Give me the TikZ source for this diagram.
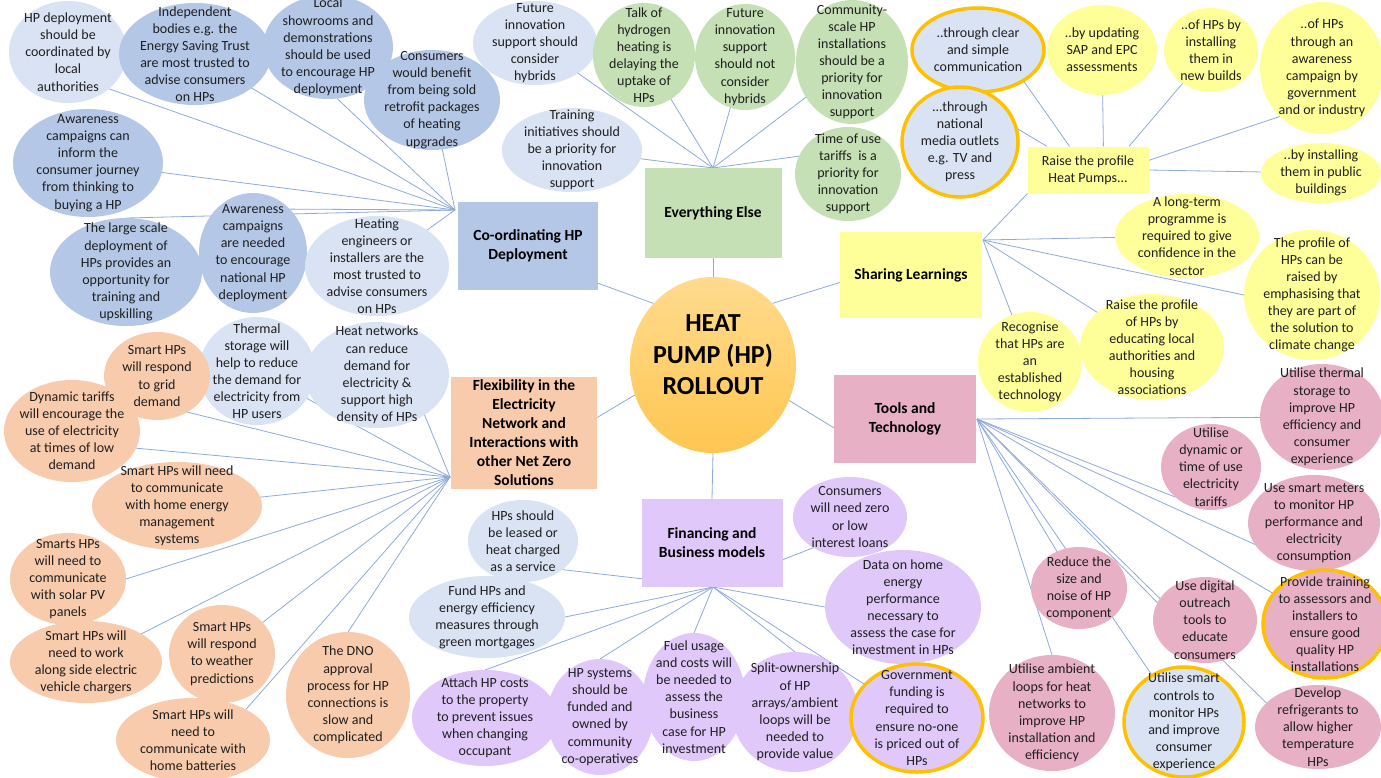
\documentclass[tikz,border=0pt]{standalone}
\usepackage{fontspec}
\setmainfont{Carlito}
\usetikzlibrary{shapes.geometric}
\pgfdeclarelayer{bg}
\pgfsetlayers{bg,main}
\definecolor{lb}{HTML}{DAE3F3}
\definecolor{mb}{HTML}{B4C7E7}
\definecolor{gr}{HTML}{C5E0B4}
\definecolor{ye}{HTML}{FFFF99}
\definecolor{orr}{HTML}{F8CBAD}
\definecolor{pu}{HTML}{E0C8FA}
\definecolor{pk}{HTML}{E8B0C5}
\definecolor{hlorange}{HTML}{FFC000}
\definecolor{linec}{HTML}{8EAADB}
\definecolor{heattop}{HTML}{FFDB8F}
\definecolor{heatbot}{HTML}{FFC650}
\tikzset{
 bubble/.style={ellipse, draw=none, inner sep=0pt, outer sep=0pt},
 btext/.style={align=center, inner sep=0pt, text=black!88, font=\fontsize{14}{17.1}\selectfont},
 hl/.style={draw=hlorange, line width=3.5pt},
 catbox/.style={rectangle, draw=none, inner sep=0pt, align=center, text=black, font=\bfseries\fontsize{15.5}{19}\selectfont},
 conn/.style={draw=linec, line width=0.8pt},
}
\newcommand{\bub}[7]{%
 \node[bubble,#2,minimum width=#5pt,minimum height=#6pt] (#1) at (#3,#4) {};
 \node[btext] (#1t) at (#1.center) {#7};}
\begin{document}
\begin{tikzpicture}[x=1pt,y=-1pt]
\useasboundingbox (0,0) rectangle (1381,777);
\begin{pgfonlayer}{bg}
\fill[white] (0,0) rectangle (1381,777);
\end{pgfonlayer}
% hubs
\coordinate (coordhub) at (455,210);
\coordinate (elsehub) at (713,168);
\coordinate (sharehub) at (983,240);
\coordinate (toolshub) at (977,419);
\coordinate (finhub) at (713,587);
\coordinate (flexhub) at (450,477);
% category boxes
\node[ellipse, minimum width=166pt, minimum height=176pt, inner sep=0pt, top color=heattop, bottom color=heatbot, draw=none] (heat) at (713,365) {};
\node[align=center, inner sep=0pt, font=\bfseries\fontsize{26}{31.5}\selectfont] (heatt) at ([yshift=10pt]heat.center) {HEAT\\PUMP (HP)\\ROLLOUT};
\node[catbox, fill=mb, minimum width=140pt, minimum height=88pt] (coord) at (528,246) {Co-ordinating HP\\Deployment};
\node[catbox, fill=gr, minimum width=137pt, minimum height=90pt] (else) at (713,213) {Everything Else};
\node[catbox, fill=ye, minimum width=142pt, minimum height=86pt] (share) at (911,275) {Sharing Learnings};
\node[catbox, fill=pk, minimum width=142pt, minimum height=88pt] (tools) at (905,419) {Tools and\\Technology};
\node[catbox, fill=pu, minimum width=141pt, minimum height=88pt] (fin) at (712,543) {Financing and\\Business models};
\node[catbox, fill=orr, minimum width=146pt, minimum height=112pt] (flex) at (524,433) {Flexibility in the\\Electricity\\Network and\\Interactions with\\other Net Zero\\Solutions};
\node[rectangle, fill=ye, minimum width=121pt, minimum height=47pt, inner sep=0pt, align=center, font=\fontsize{14}{17.1}\selectfont, text=black!88] (rp) at (1088,170) {Raise the profile\\Heat Pumps...};
% Co-ordinating
\bub{a1}{fill=lb}{68}{52}{118}{102}{HP deployment\\should be\\coordinated by\\local\\authorities}
\bub{a2}{fill=mb}{195}{54}{152}{102}{Independent\\bodies e.g. the\\Energy Saving Trust\\are most trusted to\\advise consumers\\on HPs}
\bub{a3}{fill=mb}{328}{47}{130}{104}{Local\\showrooms and\\demonstrations\\should be used\\to encourage HP\\deployment}
\bub{a4}{fill=mb}{432}{100}{136}{100}{Consumers\\would benefit\\from being sold\\retrofit packages\\of heating\\upgrades}
\bub{a5}{fill=mb}{88}{163}{150}{108}{Awareness\\campaigns can\\inform the\\consumer journey\\from thinking to\\buying a HP}
\bub{a6}{fill=mb}{126}{272}{152}{108}{The large scale\\deployment of\\HPs provides an\\opportunity for\\training and\\upskilling}
\bub{a7}{fill=mb}{253}{253}{108}{120}{Awareness\\campaigns\\are needed\\to encourage\\national HP\\deployment}
\bub{a8}{fill=lb}{377}{266}{144}{100}{Heating\\engineers or\\installers are the\\most trusted to\\advise consumers\\on HPs}
% Everything else
\bub{b1}{fill=lb}{535}{43}{124}{84}{Future\\innovation\\support should\\consider\\hybrids}
\bub{b2}{fill=gr}{644}{55}{102}{104}{Talk of\\hydrogen\\heating is\\delaying the\\uptake of\\HPs}
\bub{b3}{fill=gr}{745}{57}{100}{106}{Future\\innovation\\support\\should not\\consider\\hybrids}
\bub{b4}{fill=gr}{852}{62}{112}{124}{Community-\\scale HP\\installations\\should be a\\priority for\\innovation\\support}
\bub{b5}{fill=lb}{572}{150}{140}{84}{Training\\initiatives should\\be a priority for\\innovation\\support}
\bub{b6}{fill=gr}{848}{174}{106}{94}{Time of use\\tariffs~ is a\\priority for\\innovation\\support}
% Sharing learnings
\bub{c1a}{fill=lb,hl}{978}{50}{132}{84}{..through clear\\and simple\\communication}
\bub{c1b}{fill=lb,hl}{960}{142}{116}{110}{...through\\national\\media outlets\\e.g. TV and\\press}
\bub{c1c}{fill=ye}{1102}{50}{110}{90}{..by updating\\SAP and EPC\\assessments}
\bub{c1d}{fill=ye}{1211}{50}{94}{84}{..of HPs by\\installing\\them in\\new builds}
\bub{c1e}{fill=ye}{1322}{68}{124}{132}{..of HPs\\through an\\awareness\\campaign by\\government\\and or industry}
\bub{c1f}{fill=ye}{1321}{173}{120}{60}{..by installing\\them in public\\buildings}
\bub{c2}{fill=ye}{1187}{236}{144}{84}{A long-term\\programme is\\required to give\\confidence in the\\sector}
\bub{c3}{fill=ye}{1312}{295}{136}{130}{The profile of\\HPs can be\\raised by\\emphasising that\\they are part of\\the solution to\\climate change}
\bub{c4}{fill=ye}{1152}{347}{144}{106}{Raise the profile\\of HPs by\\educating local\\authorities and\\housing\\associations}
\bub{c5}{fill=ye}{1030}{362}{104}{100}{Recognise\\that HPs are\\an\\established\\technology}
% Tools
\bub{d1}{fill=pk}{1322}{417}{124}{106}{Utilise thermal\\storage to\\improve HP\\efficiency and\\consumer\\experience}
\bub{d2}{fill=pk}{1211}{467}{100}{86}{Utilise\\dynamic or\\time of use\\electricity\\tariffs}
\bub{d3}{fill=pk}{1314}{523}{132}{96}{Use smart meters\\to monitor HP\\performance and\\electricity\\consumption}
\bub{d4}{fill=pk,hl}{1325}{624}{124}{108}{Provide training\\to assessors and\\installers to\\ensure good\\quality HP\\installations}
\bub{d5}{fill=pk}{1079}{588}{96}{82}{Reduce the\\size and\\noise of HP\\component}
\bub{d6}{fill=pk}{1205}{620}{104}{86}{Use digital\\outreach\\tools to\\educate\\consumers}
\bub{d7}{fill=pk}{1052}{713}{126}{116}{Utilise ambient\\loops for heat\\networks to\\improve HP\\installation and\\efficiency}
\bub{d8}{fill=lb,hl}{1184}{722}{120}{110}{Utilise smart\\controls to\\monitor HPs\\and improve\\consumer\\experience}
\bub{d9}{fill=pk}{1318}{727}{126}{84}{Develop\\refrigerants to\\allow higher\\temperature\\HPs}
% Financing
\bub{e1}{fill=pu}{850}{517}{114}{80}{Consumers\\will need zero\\or low\\interest loans}
\bub{e2}{fill=pu}{903}{607}{156}{114}{Data on home\\energy\\performance\\necessary to\\assess the case for\\investment in HPs}
\bub{e7}{fill=pu}{485}{718}{146}{96}{Attach HP costs\\to the property\\to prevent issues\\when changing\\occupant}
\bub{e6}{fill=pu}{600}{717}{106}{116}{HP systems\\should be\\funded and\\owned by\\community\\co-operatives}
\bub{e5}{fill=pu}{694}{697}{102}{128}{Fuel usage\\and costs will\\be needed to\\assess the\\business\\case for HP\\investment}
\bub{e4}{fill=pu}{795}{712}{126}{120}{Split-ownership\\of HP\\arrays/ambient\\loops will be\\needed to\\provide value}
\bub{e3}{fill=pu,hl}{917}{718}{132}{108}{Government\\funding is\\required to\\ensure no-one\\is priced out of\\HPs}
\bub{e8}{fill=lb}{523}{541}{110}{82}{HPs should\\be leased or\\heat charged\\as a service}
\bub{e9}{fill=lb}{487}{617}{156}{82}{Fund HPs and\\energy efficiency\\measures through\\green mortgages}
% Flexibility
\bub{f2}{fill=lb}{257}{371}{116}{108}{Thermal\\storage will\\help to reduce\\the demand for\\electricity from\\HP users}
\bub{f1}{fill=orr}{157}{376}{106}{88}{Smart HPs\\will respond\\to grid\\demand}
\bub{f4}{fill=orr}{72}{431}{136}{102}{Dynamic tariffs\\will encourage the\\use of electricity\\at times of low\\demand}
\bub{f3}{fill=lb}{377}{375}{144}{106}{Heat networks\\can reduce\\demand for\\electricity \&\\support high\\density of HPs}
\bub{f5}{fill=orr}{177}{506}{170}{88}{Smart HPs will need\\to communicate\\with home energy\\management\\systems}
\bub{f6}{fill=orr}{68}{579}{116}{92}{Smarts HPs\\will need to\\communicate\\with solar PV\\panels}
\bub{f7}{fill=orr}{86}{662}{152}{82}{Smart HPs will\\need to work\\along side electric\\vehicle chargers}
\bub{f8}{fill=orr}{222}{654}{106}{98}{Smart HPs\\will respond\\to weather\\predictions}
\bub{f9}{fill=orr}{193}{740}{154}{84}{Smart HPs will\\need to\\communicate with\\home batteries}
\bub{f10}{fill=orr}{348}{695}{124}{126}{The DNO\\approval\\process for HP\\connections is\\slow and\\complicated}
% connectors
\begin{pgfonlayer}{bg}
\draw[conn] (coord.-28) -- (heat.134);
\draw[conn] (else.south) -- (heat.north);
\draw[conn] (share.186) -- (heat.46);
\draw[conn] (tools.187) -- (heat.-25);
\draw[conn] (flex.12) -- (heat.201);
\draw[conn] (heat.south) -- (fin.north);
\foreach \n in {a2.center,a4.center,a5.center,a8.center,a1.-42,a3.-80,a6.north,a7.50}
  \draw[conn] (\n) -- (coordhub);
\foreach \n in {b1.center,b2.center,b3.center,b4.center,b5.center,b6.160}
  \draw[conn] (\n) -- (elsehub);
\draw[conn] (rp.south west) -- (sharehub);
\foreach \n in {c2.center,c3.west,c4.center,c5.center}
  \draw[conn] (\n) -- (sharehub);
\draw[conn] (c1a.-34) -- (rp.128);
\draw[conn] (c1b.14) -- (rp.150);
\draw[conn] (c1c.center) -- (rp.57);
\draw[conn] (c1d.center) -- (rp.30);
\draw[conn] (c1e.229) -- (rp.9);
\draw[conn] (c1f.center) -- (rp.east);
\foreach \n in {d1.center,d2.220,d3.200,d4.center,d5.center,d6.160,d7.north,d8.center,d9.155}
  \draw[conn] (\n) -- (toolshub);
\foreach \n in {e1.220,e2.west,e3.center,e4.north,e5.north,e6.north,e7.north,e8.-36,e9.east}
  \draw[conn] (\n) -- (finhub);
\foreach \n in {f1.-50,f2.center,f3.-40,f4.-15,f5.center,f6.east,f7.center,f8.center,f9.30,f10.north}
  \draw[conn] (\n) -- (flexhub);
\end{pgfonlayer}
\end{tikzpicture}
\end{document}
